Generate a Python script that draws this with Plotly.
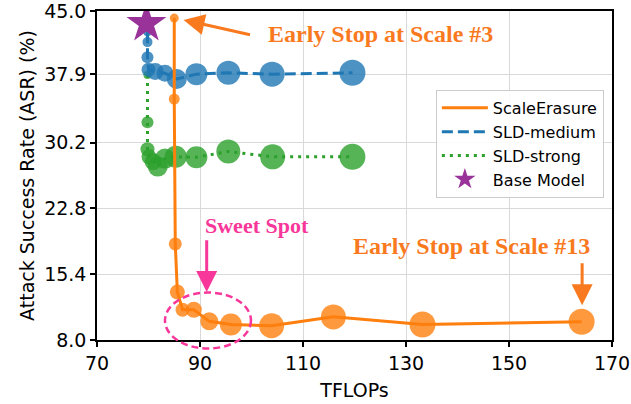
import plotly.graph_objects as go

# ---- data ----
se_x = [85.0, 85.0, 85.2, 85.6, 86.6, 88.8, 91.8, 96.0, 103.9, 115.9, 133.2, 164.1]
se_y = [44.2, 35.1, 18.8, 13.4, 11.4, 11.4, 10.1, 9.75, 9.6, 10.6, 9.75, 10.05]
se_s = [9, 11, 13, 15, 14, 16, 18, 22, 25, 25, 26, 26]

med_x = [79.8, 79.8, 79.8, 80.0, 81.3, 83.2, 85.5, 89.3, 95.5, 104.0, 119.6]
med_y = [42.6, 41.5, 39.8, 38.4, 38.2, 38.0, 37.35, 37.9, 38.05, 37.9, 38.05]
med_s = [8, 10, 12, 14, 17, 17, 20, 22, 24, 25, 26]

str_x = [79.8, 79.8, 79.8, 80.1, 80.9, 81.8, 83.2, 85.3, 89.3, 95.5, 104.1, 119.6]
str_y = [37.8, 32.5, 29.45, 28.6, 28.05, 27.5, 28.4, 28.6, 28.55, 29.2, 28.6, 28.6]
str_s = [8, 12, 14, 15, 17, 20, 20, 22, 22, 24, 25, 26]

base_x = [79.6]
base_y = [43.6]

x_ticks = [70, 90, 110, 130, 150, 170]
y_ticks = [8.0, 15.4, 22.8, 30.2, 37.9, 45.0]

ORANGE = "#ff7f0e"
BLUE = "#1f77b4"
GREEN = "#2ca02c"
PURPLE = "#993399"
PINK = "#f7379a"
ANN_ORANGE = "#f97a1e"

fig = go.Figure()

# SLD-strong
fig.add_trace(go.Scatter(x=str_x, y=str_y, mode="markers", showlegend=False,
                         marker=dict(size=str_s, color=GREEN, opacity=0.8, line=dict(width=0))))
fig.add_trace(go.Scatter(x=str_x, y=str_y, mode="lines", name="SLD-strong", legendrank=3,
                         line=dict(color=GREEN, width=3, dash="3px,5px")))
# SLD-medium
fig.add_trace(go.Scatter(x=med_x, y=med_y, mode="markers", showlegend=False,
                         marker=dict(size=med_s, color=BLUE, opacity=0.8, line=dict(width=0))))
fig.add_trace(go.Scatter(x=med_x, y=med_y, mode="lines", name="SLD-medium", legendrank=2,
                         line=dict(color=BLUE, width=3, dash="11px,5px")))
# ScaleErasure
fig.add_trace(go.Scatter(x=se_x, y=se_y, mode="markers", showlegend=False,
                         marker=dict(size=se_s, color=ORANGE, opacity=0.8, line=dict(width=0))))
fig.add_trace(go.Scatter(x=se_x, y=se_y, mode="lines", name="ScaleErasure", legendrank=1,
                         line=dict(color=ORANGE, width=3)))
# Base model
fig.add_trace(go.Scatter(x=base_x, y=base_y, mode="markers", name="Base Model", legendrank=4,
                         marker=dict(symbol="star", size=30, color=PURPLE, line=dict(width=0))))

# annotations
fig.add_annotation(x=86.8, y=44.0, ax=100.0, ay=42.3, xref="x", yref="y", axref="x", ayref="y",
                   text="", showarrow=True, arrowhead=2, arrowsize=1.4, arrowwidth=3, arrowcolor=ANN_ORANGE)
fig.add_annotation(x=125.0, y=42.4, xref="x", yref="y", text="<b>Early Stop at Scale #3</b>",
                   showarrow=False, font=dict(family="Liberation Serif", size=24, color=ANN_ORANGE))

fig.add_annotation(x=164.2, y=11.9, ax=164.2, ay=16.8, xref="x", yref="y", axref="x", ayref="y",
                   text="", showarrow=True, arrowhead=2, arrowsize=1.4, arrowwidth=3, arrowcolor=ANN_ORANGE)
fig.add_annotation(x=142.8, y=18.6, xref="x", yref="y", text="<b>Early Stop at Scale #13</b>",
                   showarrow=False, font=dict(family="Liberation Serif", size=24, color=ANN_ORANGE))

fig.add_annotation(x=91.3, y=13.4, ax=91.3, ay=19.4, xref="x", yref="y", axref="x", ayref="y",
                   text="", showarrow=True, arrowhead=2, arrowsize=1.4, arrowwidth=3, arrowcolor=PINK)
fig.add_annotation(x=101.1, y=20.9, xref="x", yref="y", text="<b>Sweet Spot</b>",
                   showarrow=False, font=dict(family="Liberation Serif", size=22, color=PINK))

# ellipse (in axis-domain fractions so it is not clipped)
xr = (70, 170)
yr = (8, 45)
ex0, ex1, ey0, ey1 = 83.2, 99.9, 7.04, 13.34
fig.add_shape(type="circle", xref="x domain", yref="y domain",
              x0=(ex0 - xr[0]) / (xr[1] - xr[0]), x1=(ex1 - xr[0]) / (xr[1] - xr[0]),
              y0=(ey0 - yr[0]) / (yr[1] - yr[0]), y1=(ey1 - yr[0]) / (yr[1] - yr[0]),
              line=dict(color=PINK, width=2.5, dash="7px,4px"), layer="above")

axis_font = dict(family="DejaVu Sans", size=19, color="black")
fig.update_xaxes(range=list(xr), tickvals=x_ticks, ticktext=[str(v) for v in x_ticks],
                 title=dict(text="TFLOPs", font=axis_font, standoff=11), tickfont=axis_font,
                 showline=True, mirror=True, linecolor="black", linewidth=1.5,
                 ticks="outside", ticklen=5, tickwidth=1.5, tickcolor="black", automargin=False,
                 ticklabeloverflow="allow",
                 showgrid=True, gridcolor="#d9d9d9", gridwidth=1, zeroline=False)
fig.update_yaxes(range=list(yr), tickvals=y_ticks, ticktext=[f"{v:.1f}" for v in y_ticks],
                 title=dict(text="Attack Success Rate (ASR) (%)", font=axis_font, standoff=4), tickfont=axis_font,
                 showline=True, mirror=True, linecolor="black", linewidth=1.5,
                 ticks="outside", ticklen=5, tickwidth=1.5, tickcolor="black", automargin=False,
                 ticklabeloverflow="allow",
                 showgrid=True, gridcolor="#d9d9d9", gridwidth=1, zeroline=False)

fig.update_layout(
    width=631, height=404,
    margin=dict(l=97, r=19, t=11, b=64, autoexpand=False),
    paper_bgcolor="white", plot_bgcolor="white",
    font=dict(family="DejaVu Sans", color="black"),
    legend=dict(x=0.658, y=0.76, xanchor="left", yanchor="top",
                bgcolor="rgba(255,255,255,0.85)", bordercolor="#cccccc", borderwidth=1,
                font=dict(family="DejaVu Sans", size=16, color="black"),
                itemwidth=46),
)

fig.write_html("out.html", config={"displayModeBar": False},
               post_script="document.body.style.margin='0';document.body.style.overflow='hidden';")
